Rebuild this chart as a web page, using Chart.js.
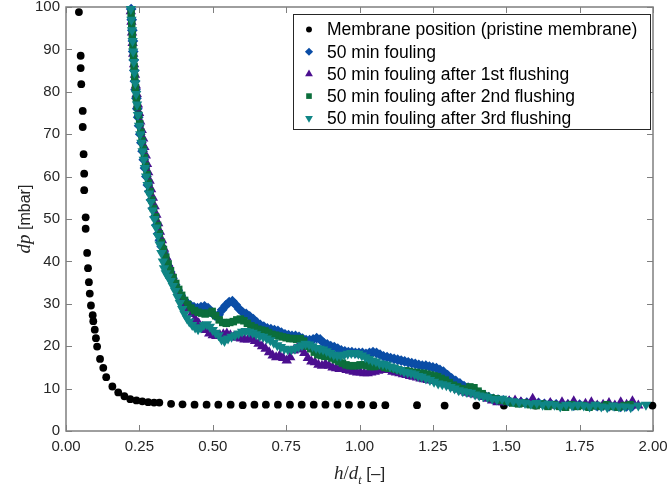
<!DOCTYPE html>
<html>
<head>
<meta charset="utf-8">
<script src="https://cdn.jsdelivr.net/npm/chart.js@4.4.1/dist/chart.umd.min.js"></script>
<style>
  body { margin: 0; background: #fff; }
  canvas { display: block; }
</style>
</head>
<body>
<canvas id="chart" width="668" height="491"></canvas>
<script>
// Подписи серий
const seriesLabels = [
    'Membrane position (pristine membrane)',
    '50 min fouling',
    '50 min fouling after 1st flushing',
    '50 min fouling after 2nd flushing',
    '50 min fouling after 3rd flushing'
];

// Оси
const xTicks = [0, 0.25, 0.5, 0.75, 1, 1.25, 1.5, 1.75, 2];
const yTicks = [0, 10, 20, 30, 40, 50, 60, 70, 80, 90, 100];

// Чистая мембрана (чёрные точки)
const pristineX = [0.044, 0.050, 0.050, 0.052, 0.057, 0.057, 0.060, 0.062, 0.062, 0.067, 0.067, 0.072, 0.075, 0.078, 0.081, 0.085, 0.091, 0.093, 0.098, 0.102, 0.106, 0.116, 0.127, 0.137, 0.158, 0.178, 0.199, 0.219, 0.240, 0.260, 0.280, 0.300, 0.318, 0.358, 0.397, 0.438, 0.479, 0.519, 0.561, 0.602, 0.642, 0.681, 0.722, 0.763, 0.803, 0.844, 0.884, 0.925, 0.964, 1.006, 1.047, 1.088, 1.196, 1.290, 1.398, 1.492, 1.600, 1.700, 1.800, 1.897, 1.998];
const pristineY = [98.8, 88.5, 85.6, 81.8, 75.5, 71.7, 65.3, 60.7, 56.8, 50.4, 47.7, 42.0, 38.4, 35.1, 32.4, 29.6, 27.3, 25.9, 23.9, 21.9, 19.9, 17.0, 14.9, 12.7, 10.5, 9.1, 8.2, 7.5, 7.2, 7.0, 6.8, 6.7, 6.7, 6.4, 6.3, 6.2, 6.2, 6.2, 6.2, 6.1, 6.2, 6.2, 6.2, 6.2, 6.2, 6.2, 6.2, 6.2, 6.2, 6.2, 6.1, 6.1, 6.1, 6.0, 6.0, 6.0, 6.0, 6.0, 6.0, 6.0, 6.0];

// 50 мин загрязнения
const foulX = [0.222, 0.224, 0.226, 0.228, 0.229, 0.231, 0.233, 0.235, 0.237, 0.240, 0.243, 0.246, 0.249, 0.253, 0.257, 0.261, 0.265, 0.269, 0.274, 0.279, 0.284, 0.290, 0.296, 0.302, 0.308, 0.314, 0.320, 0.326, 0.333, 0.340, 0.347, 0.355, 0.363, 0.372, 0.381, 0.391, 0.401, 0.412, 0.424, 0.436, 0.448, 0.460, 0.472, 0.484, 0.496, 0.508, 0.520, 0.532, 0.544, 0.556, 0.567, 0.578, 0.590, 0.602, 0.614, 0.626, 0.638, 0.650, 0.662, 0.674, 0.686, 0.698, 0.710, 0.722, 0.734, 0.746, 0.758, 0.770, 0.782, 0.794, 0.806, 0.818, 0.830, 0.842, 0.854, 0.866, 0.878, 0.890, 0.902, 0.914, 0.926, 0.938, 0.950, 0.962, 0.974, 0.986, 0.998, 1.010, 1.022, 1.034, 1.046, 1.058, 1.070, 1.082, 1.094, 1.106, 1.118, 1.130, 1.142, 1.154, 1.166, 1.178, 1.190, 1.202, 1.214, 1.226, 1.238, 1.250, 1.262, 1.274, 1.286, 1.300, 1.314, 1.328, 1.342, 1.356, 1.370, 1.384, 1.398, 1.412, 1.426, 1.440, 1.456, 1.472, 1.490, 1.510, 1.530, 1.550, 1.570, 1.590, 1.610, 1.630, 1.650, 1.670, 1.690, 1.710, 1.730, 1.750, 1.770, 1.790, 1.810, 1.830, 1.850, 1.870, 1.890, 1.910, 1.930];
const foulY = [99.5, 97, 94.5, 92, 89.5, 87.5, 85, 82.5, 80.5, 78.5, 76, 74, 72, 70, 68, 66, 64, 62, 60, 58, 56.5, 54.5, 52.5, 50.5, 48.5, 46.5, 45, 43.5, 42, 40.5, 39, 37.5, 36, 34.5, 33.2, 32, 31, 30.2, 29.6, 29.2, 29, 29.2, 29.4, 29.0, 28.0, 27.2, 27.4, 28.6, 29.6, 30.4, 30.6, 29.8, 28.8, 28.0, 27.6, 27.0, 26.4, 25.6, 25.0, 24.6, 24.2, 24.0, 23.8, 23.6, 23.2, 22.8, 22.6, 22.4, 22.4, 22.2, 21.8, 21.4, 21.4, 21.6, 21.9, 21.6, 20.8, 20.4, 20.0, 19.8, 19.4, 19.0, 18.8, 18.6, 18.6, 18.4, 18.4, 18.4, 18.2, 18.4, 18.6, 18.4, 18.0, 17.6, 17.4, 17.2, 17.0, 16.8, 16.6, 16.4, 16.2, 16.0, 15.8, 15.6, 15.4, 15.4, 15.2, 15.0, 14.8, 14.4, 14.0, 13.2, 12.4, 11.8, 11.2, 10.6, 10.2, 9.8, 9.2, 8.8, 8.4, 8.0, 7.6, 7.4, 7.2, 7.0, 6.9, 6.8, 6.7, 6.6, 6.6, 6.4, 6.5, 6.3, 6.2, 6.2, 6.0, 6.2, 6.1, 6.0, 5.9, 6.0, 5.8, 5.9, 5.7, 5.8, 5.9];

// После 1-й промывки
const flush1X = [0.221, 0.223, 0.225, 0.227, 0.229, 0.232, 0.235, 0.238, 0.241, 0.245, 0.249, 0.253, 0.258, 0.263, 0.267, 0.272, 0.276, 0.280, 0.285, 0.290, 0.296, 0.302, 0.308, 0.314, 0.320, 0.327, 0.334, 0.342, 0.350, 0.358, 0.367, 0.376, 0.386, 0.396, 0.406, 0.417, 0.428, 0.440, 0.452, 0.464, 0.476, 0.488, 0.500, 0.512, 0.524, 0.536, 0.548, 0.560, 0.572, 0.584, 0.596, 0.608, 0.620, 0.632, 0.644, 0.656, 0.668, 0.680, 0.692, 0.704, 0.716, 0.728, 0.740, 0.752, 0.764, 0.776, 0.788, 0.800, 0.812, 0.824, 0.836, 0.848, 0.860, 0.872, 0.884, 0.896, 0.908, 0.920, 0.932, 0.944, 0.956, 0.968, 0.980, 0.992, 1.004, 1.016, 1.028, 1.040, 1.052, 1.064, 1.076, 1.088, 1.100, 1.112, 1.124, 1.136, 1.148, 1.160, 1.172, 1.184, 1.196, 1.208, 1.220, 1.232, 1.244, 1.256, 1.268, 1.280, 1.294, 1.308, 1.322, 1.336, 1.350, 1.364, 1.378, 1.392, 1.406, 1.420, 1.436, 1.452, 1.470, 1.490, 1.510, 1.530, 1.550, 1.570, 1.590, 1.610, 1.630, 1.650, 1.670, 1.690, 1.710, 1.730, 1.750, 1.770, 1.790, 1.810, 1.830, 1.850, 1.870, 1.890, 1.910, 1.930, 1.950];
const flush1Y = [99, 96.5, 94, 91.5, 89, 86.5, 84, 81.5, 79.5, 77, 75, 73, 71, 69, 67, 65, 63, 61, 59, 57, 55, 53, 51, 49, 47, 45, 43, 41, 39.2, 37.5, 35.8, 34.2, 32.6, 31.2, 30, 28.8, 27.6, 26.4, 25.4, 24.6, 23.8, 23.0, 22.6, 22.4, 22.6, 22.8, 23.0, 22.6, 22.2, 22.0, 21.8, 21.6, 21.6, 21.8, 21.2, 20.6, 20.0, 19.4, 18.6, 17.8, 17.4, 17.8, 17.2, 16.6, 17.4, 19.0, 19.6, 19.2, 18.4, 17.2, 16.4, 16.2, 15.6, 15.4, 15.8, 15.4, 15.0, 14.8, 14.6, 14.6, 14.4, 14.2, 14.0, 13.8, 13.8, 13.6, 13.6, 13.8, 14.0, 14.2, 14.4, 14.6, 14.4, 14.0, 13.8, 13.6, 13.4, 13.2, 13.0, 12.8, 12.6, 12.4, 12.2, 12.0, 11.9, 11.8, 11.6, 11.4, 11.0, 10.6, 10.2, 9.8, 9.4, 9.0, 8.8, 8.6, 8.4, 8.0, 7.6, 7.2, 6.8, 6.8, 7.0, 7.2, 6.8, 6.4, 7.6, 6.4, 6.2, 6.6, 6.0, 6.8, 6.2, 7.0, 6.0, 6.4, 6.8, 6.0, 6.2, 6.6, 6.0, 6.8, 6.2, 7.0, 6.0];

// После 2-й промывки
const flush2X = [0.222, 0.224, 0.226, 0.228, 0.230, 0.232, 0.234, 0.237, 0.240, 0.243, 0.247, 0.251, 0.255, 0.259, 0.263, 0.267, 0.271, 0.276, 0.281, 0.286, 0.292, 0.298, 0.305, 0.312, 0.318, 0.325, 0.332, 0.340, 0.348, 0.356, 0.365, 0.374, 0.384, 0.394, 0.404, 0.415, 0.426, 0.438, 0.450, 0.462, 0.474, 0.486, 0.498, 0.510, 0.522, 0.534, 0.546, 0.558, 0.570, 0.582, 0.594, 0.606, 0.618, 0.630, 0.642, 0.654, 0.666, 0.678, 0.690, 0.702, 0.714, 0.726, 0.738, 0.750, 0.762, 0.774, 0.786, 0.798, 0.810, 0.822, 0.834, 0.846, 0.858, 0.870, 0.882, 0.894, 0.906, 0.918, 0.930, 0.942, 0.954, 0.966, 0.978, 0.990, 1.002, 1.014, 1.026, 1.038, 1.050, 1.062, 1.074, 1.086, 1.098, 1.110, 1.122, 1.134, 1.146, 1.158, 1.170, 1.182, 1.194, 1.206, 1.218, 1.230, 1.242, 1.254, 1.266, 1.278, 1.292, 1.306, 1.320, 1.334, 1.348, 1.362, 1.376, 1.390, 1.404, 1.418, 1.432, 1.448, 1.466, 1.484, 1.502, 1.522, 1.542, 1.562, 1.582, 1.602, 1.622, 1.642, 1.662, 1.682, 1.702, 1.722, 1.742, 1.762, 1.782, 1.802, 1.822, 1.842, 1.862, 1.882, 1.902, 1.922];
const flush2Y = [98.5, 96, 93.5, 91, 88.5, 86, 83.5, 81, 78.5, 76.5, 74.5, 72.5, 70.5, 68.5, 66.5, 64.5, 62.5, 60.5, 58.5, 56.5, 54.5, 52.5, 50.5, 48.5, 46.5, 44.5, 42.8, 41.0, 39.4, 37.8, 36.2, 34.8, 33.4, 32.0, 30.8, 29.8, 29.0, 28.4, 28.0, 27.8, 27.6, 27.8, 28.2, 27.2, 26.2, 25.6, 25.4, 25.6, 25.8, 26.2, 26.4, 26.0, 25.4, 24.8, 24.4, 24.0, 23.8, 23.6, 23.2, 22.8, 22.6, 22.4, 22.2, 22.0, 21.8, 21.8, 21.6, 21.8, 21.2, 20.0, 19.4, 18.6, 18.0, 17.8, 17.6, 17.6, 17.2, 16.8, 16.4, 16.0, 15.6, 15.4, 15.4, 15.4, 15.6, 15.6, 15.4, 15.2, 15.2, 15.4, 15.4, 15.0, 14.8, 14.8, 14.6, 14.4, 14.2, 14.2, 14.0, 13.8, 13.8, 13.6, 13.6, 13.4, 13.2, 13.0, 12.8, 12.4, 12.0, 11.4, 10.8, 10.4, 10.0, 9.8, 10.4, 10.2, 9.4, 8.8, 8.2, 7.8, 7.6, 7.2, 7.0, 6.6, 6.4, 6.6, 6.2, 6.0, 6.4, 5.8, 6.2, 5.8, 5.6, 6.2, 5.8, 6.0, 5.6, 6.0, 5.8, 6.2, 5.8, 5.6, 6.0, 6.2];

// После 3-й промывки
const flush3X = [0.221, 0.223, 0.225, 0.227, 0.229, 0.231, 0.233, 0.236, 0.239, 0.242, 0.245, 0.249, 0.253, 0.257, 0.261, 0.265, 0.269, 0.273, 0.278, 0.283, 0.289, 0.295, 0.301, 0.307, 0.313, 0.319, 0.325, 0.330, 0.334, 0.340, 0.348, 0.356, 0.364, 0.372, 0.380, 0.388, 0.396, 0.404, 0.412, 0.420, 0.430, 0.440, 0.450, 0.460, 0.470, 0.480, 0.490, 0.500, 0.510, 0.520, 0.530, 0.540, 0.552, 0.564, 0.576, 0.588, 0.600, 0.612, 0.624, 0.636, 0.648, 0.660, 0.672, 0.684, 0.696, 0.708, 0.720, 0.732, 0.744, 0.756, 0.768, 0.780, 0.792, 0.804, 0.816, 0.828, 0.840, 0.852, 0.864, 0.876, 0.888, 0.900, 0.912, 0.924, 0.936, 0.948, 0.960, 0.972, 0.984, 0.996, 1.008, 1.020, 1.032, 1.044, 1.056, 1.068, 1.080, 1.092, 1.104, 1.116, 1.128, 1.140, 1.152, 1.164, 1.176, 1.188, 1.200, 1.212, 1.226, 1.240, 1.254, 1.268, 1.282, 1.296, 1.310, 1.324, 1.338, 1.352, 1.366, 1.380, 1.394, 1.408, 1.422, 1.436, 1.452, 1.468, 1.486, 1.504, 1.524, 1.544, 1.564, 1.584, 1.604, 1.624, 1.644, 1.664, 1.684, 1.704, 1.724, 1.744, 1.764, 1.784, 1.804, 1.824, 1.844, 1.864, 1.884, 1.904, 1.924, 1.950, 1.976];
const flush3Y = [99.5, 97, 94.5, 92, 89.5, 87, 84.5, 82, 79.5, 77, 74.5, 72, 70, 68, 66, 64, 62, 60, 58, 56, 54, 52, 50, 48, 46, 44, 42, 40, 38.4, 37.2, 36.4, 35.4, 34.2, 33.0, 31.6, 30.2, 28.8, 27.6, 26.6, 25.8, 25.0, 24.4, 24.0, 24.4, 25.0, 25.2, 24.6, 23.8, 23.2, 22.6, 21.6, 21.2, 21.8, 22.2, 22.6, 23.0, 23.4, 23.6, 23.4, 23.2, 22.8, 22.4, 22.2, 21.8, 21.4, 20.8, 20.2, 19.8, 19.4, 19.2, 19.2, 19.4, 19.8, 20.2, 20.6, 20.4, 20.0, 19.6, 19.4, 19.2, 18.8, 18.4, 18.0, 17.8, 17.8, 18.0, 18.2, 18.4, 18.4, 18.2, 17.8, 17.4, 17.0, 16.6, 16.4, 16.0, 15.8, 15.6, 15.2, 15.0, 14.6, 14.4, 14.0, 13.8, 13.6, 13.4, 13.0, 12.8, 12.4, 12.0, 11.6, 11.2, 11.0, 10.8, 10.4, 10.0, 9.6, 9.4, 9.2, 9.0, 8.6, 8.4, 8.2, 8.0, 7.6, 7.4, 7.6, 7.2, 7.0, 6.8, 6.6, 6.4, 6.6, 6.2, 6.4, 6.2, 5.8, 6.2, 6.0, 6.2, 6.0, 5.8, 6.2, 5.8, 5.6, 6.0, 5.8, 5.8, 5.6, 6.0, 6.2];

const seriesX = [pristineX, foulX, flush1X, flush2X, flush3X];
const seriesY = [pristineY, foulY, flush1Y, flush2Y, flush3Y];
const colors = ['#000000', '#0a4da6', '#4b0f8f', '#0b6e3b', '#0f8585'];
const styles = ['circle', 'rectRot', 'triangle', 'rect', 'triangle'];
const rotations = [0, 0, 0, 0, 180];
const radii = [3.9, 5.4, 6, 5.3, 6];

function toPoints(xs, ys) {
    return xs.map((x, i) => ({ x: x, y: ys[i] }));
}

const datasets = seriesLabels.map((label, i) => ({
    label: label,
    data: toPoints(seriesX[i], seriesY[i]),
    backgroundColor: colors[i],
    borderColor: colors[i],
    borderWidth: 0,
    pointStyle: styles[i],
    rotation: rotations[i],
    pointRadius: radii[i],
    pointHoverRadius: radii[i],
    order: seriesLabels.length - i, // последние серии рисуются сверху
    clip: false
}));

const AXIS_COLOR = '#7f7f7f';
const TEXT_COLOR = '#262626';

// Рамка вокруг графика с тиками внутрь
const boxAxes = {
    id: 'boxAxes',
    beforeDatasetsDraw(chart) {
        const { ctx, chartArea: a, scales } = chart;
        ctx.save();
        ctx.strokeStyle = AXIS_COLOR;
        ctx.lineWidth = 1.5;
        ctx.strokeRect(a.left, a.top, a.right - a.left, a.bottom - a.top);
        ctx.lineWidth = 1;
        ctx.beginPath();
        scales.x.ticks.forEach(t => {
            const px = Math.round(scales.x.getPixelForValue(t.value)) + 0.5;
            ctx.moveTo(px, a.bottom); ctx.lineTo(px, a.bottom - 6);
            ctx.moveTo(px, a.top); ctx.lineTo(px, a.top + 6);
        });
        scales.y.ticks.forEach(t => {
            const py = Math.round(scales.y.getPixelForValue(t.value)) + 0.5;
            ctx.moveTo(a.left, py); ctx.lineTo(a.left + 6, py);
            ctx.moveTo(a.right, py); ctx.lineTo(a.right - 6, py);
        });
        ctx.stroke();
        ctx.restore();
    }
};

// Подписи осей с курсивом и индексом
function drawParts(ctx, parts, startX, baseY) {
    let x = startX;
    parts.forEach(p => {
        ctx.font = p.font;
        ctx.fillText(p.text, x, baseY + (p.dy || 0));
        x += ctx.measureText(p.text).width;
    });
}
function partsWidth(ctx, parts) {
    return parts.reduce((w, p) => { ctx.font = p.font; return w + ctx.measureText(p.text).width; }, 0);
}

const axisTitles = {
    id: 'axisTitles',
    afterDraw(chart) {
        const { ctx, chartArea: a } = chart;
        ctx.save();
        ctx.fillStyle = TEXT_COLOR;
        ctx.textBaseline = 'alphabetic';
        ctx.textAlign = 'left';

        const xParts = [
            { text: 'h', font: 'italic 19px "Liberation Serif"' },
            { text: '/', font: '19px "Liberation Serif"' },
            { text: 'd', font: 'italic 19px "Liberation Serif"' },
            { text: 't', font: 'italic 12px "Liberation Serif"', dy: 5 },
            { text: ' [\u2013]', font: '17px "Liberation Sans"' }
        ];
        const cx = (a.left + a.right) / 2;
        drawParts(ctx, xParts, cx - partsWidth(ctx, xParts) / 2, 479);

        const yParts = [
            { text: 'dp', font: 'italic 19px "Liberation Serif"' },
            { text: ' [mbar]', font: '16px "Liberation Sans"' }
        ];
        ctx.translate(30, (a.top + a.bottom) / 2);
        ctx.rotate(-Math.PI / 2);
        drawParts(ctx, yParts, -partsWidth(ctx, yParts) / 2, 0);
        ctx.restore();
    }
};

// Легенда в рамке внутри области графика
const boxLegend = {
    id: 'boxLegend',
    afterDraw(chart) {
        const ctx = chart.ctx;
        const left = 293, top = 14, w = 357, h = 115;
        ctx.save();
        ctx.fillStyle = '#ffffff';
        ctx.fillRect(left, top, w, h);
        ctx.strokeStyle = '#262626';
        ctx.lineWidth = 1;
        ctx.strokeRect(left + 0.5, top + 0.5, w, h);
        ctx.font = '17.5px "Liberation Sans"';
        ctx.textBaseline = 'middle';
        ctx.textAlign = 'left';
        chart.data.datasets.forEach((ds, i) => {
            const yy = top + 15.5 + i * 22.2;
            ctx.fillStyle = ds.backgroundColor;
            Chart.helpers.drawPoint(ctx, {
                pointStyle: ds.pointStyle,
                rotation: ds.rotation,
                radius: ds.pointRadius * 0.75,
                borderWidth: 0
            }, left + 16, yy);
            ctx.fillStyle = '#000000';
            ctx.fillText(ds.label, left + 34, yy + 1);
        });
        ctx.restore();
    }
};

new Chart(document.getElementById('chart'), {
    type: 'scatter',
    data: { datasets: datasets },
    options: {
        responsive: false,
        animation: false,
        layout: { padding: { left: 0, right: 15, top: 7, bottom: 0 } },
        plugins: {
            legend: { display: false },
            tooltip: { enabled: false }
        },
        scales: {
            x: {
                type: 'linear',
                min: 0,
                max: 2,
                afterFit: s => { s.height = 60; s.paddingLeft = 0; s.paddingRight = 0; },
                afterBuildTicks: s => { s.ticks = xTicks.map(v => ({ value: v })); },
                grid: { display: false, drawTicks: false },
                border: { display: false },
                ticks: {
                    padding: 7,
                    color: TEXT_COLOR,
                    font: { family: 'Liberation Sans', size: 15 },
                    callback: v => v.toFixed(2),
                    maxRotation: 0
                }
            },
            y: {
                type: 'linear',
                min: 0,
                max: 100,
                afterFit: s => { s.width = 66; s.paddingTop = 0; s.paddingBottom = 0; },
                afterBuildTicks: s => { s.ticks = yTicks.map(v => ({ value: v })); },
                grid: { display: false, drawTicks: false },
                border: { display: false },
                ticks: {
                    padding: 6,
                    color: TEXT_COLOR,
                    font: { family: 'Liberation Sans', size: 15 }
                }
            }
        }
    },
    plugins: [boxAxes, axisTitles, boxLegend]
});
</script>
</body>
</html>
